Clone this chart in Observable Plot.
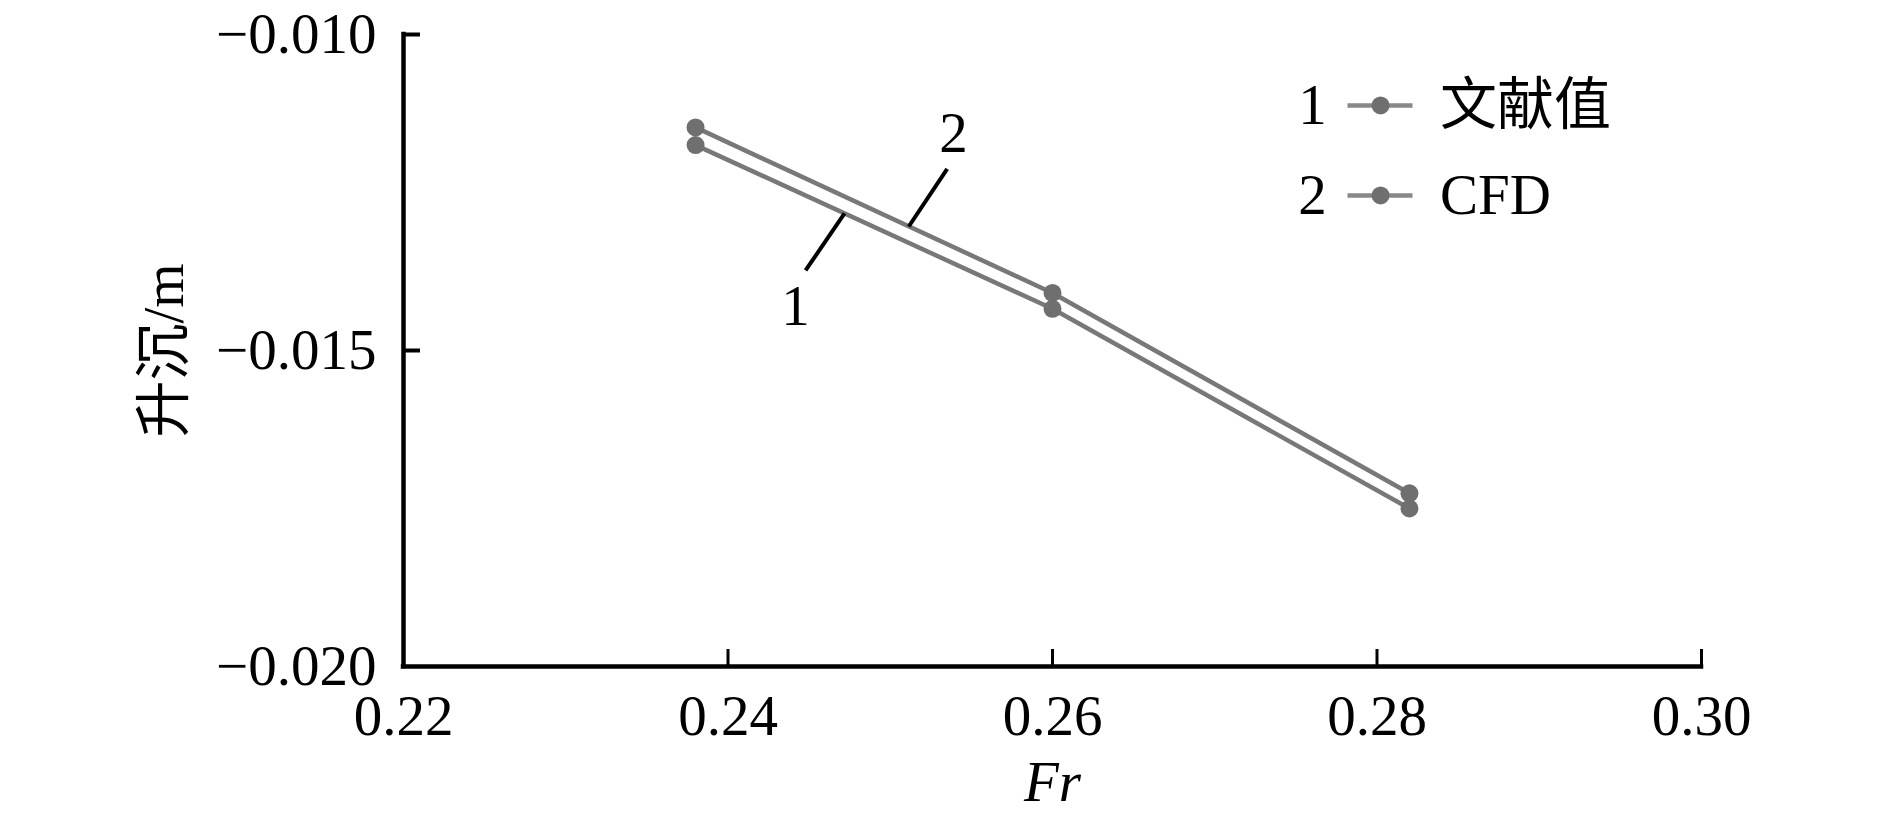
<!DOCTYPE html>
<html>
<head>
<meta charset="utf-8">
<script src="https://cdn.jsdelivr.net/npm/d3@7"></script>
<script src="https://cdn.jsdelivr.net/npm/@observablehq/plot@0.6"></script>
<style>
  html, body { margin: 0; padding: 0; background: #fff; }
</style>
</head>
<body>
<div id="chart"></div>
<script>
// Data
const fr = [0.238, 0.260, 0.282];
const literature = [-0.01175, -0.01434, -0.01750]; // 1 文献值
const cfd = [-0.01147, -0.01409, -0.01726];        // 2 CFD

const seriesNames = ["文献值", "CFD"];
const seriesNums = ["1", "2"];

const xTickValues = [0.22, 0.24, 0.26, 0.28, 0.30];
const yTickValues = [-0.020, -0.015, -0.010];

// annotation leaders (data units)
const leaderNums = ["1", "2"];
const leaderFrom = [[0.24718, -0.012832], [0.25351, -0.012125]];
const leaderTo = [[0.24478, -0.013734], [0.25114, -0.013038]];
const leaderLabelPos = [[0.24416, -0.014604], [0.25390, -0.011867]];

// legend placement (data units)
const legendRowY = [-0.011123, -0.012547];
const legendNumX = 0.27602;
const legendLineX = [0.27818, 0.28219];
const legendDotX = 0.28022;
const legendTextX = 0.28388;

const rows = [];
fr.forEach((f, i) => {
  rows.push({fr: f, v: literature[i], s: seriesNames[0]});
  rows.push({fr: f, v: cfd[i], s: seriesNames[1]});
});

const leaders = leaderNums.map((n, i) => ({
  n, x1: leaderFrom[i][0], y1: leaderFrom[i][1], x2: leaderTo[i][0], y2: leaderTo[i][1],
  lx: leaderLabelPos[i][0], ly: leaderLabelPos[i][1]
}));

const legend = seriesNames.map((name, i) => ({name, num: seriesNums[i], y: legendRowY[i]}));

const W = 1890, H = 822;
const mL = 403, mR = 189, mT = 34, mB = 156;
const plotW = W - mL - mR, plotH = H - mT - mB;
const FONT = "'Liberation Serif', 'Times New Roman', 'Noto Sans CJK SC', serif";
const FS = 57;
const lineColor = "#787878";
const dotColor = "#6f6f6f";

const chart = Plot.plot({
  width: W,
  height: H,
  marginLeft: mL,
  marginRight: mR,
  marginTop: mT,
  marginBottom: mB,
  style: {fontFamily: FONT, fontSize: FS + "px", background: "#fff", color: "#000"},
  x: {domain: [0.22, 0.30], label: null},
  y: {domain: [-0.020, -0.010], label: null},
  marks: [
    // axis tick labels
    Plot.axisX({ticks: xTickValues, tickSize: 0, tickPadding: 28, tickFormat: d3.format(".2f"), fontSize: FS, fill: "#000"}),
    Plot.axisY({ticks: yTickValues, tickSize: 0, tickPadding: 27, tickFormat: d3.format(".3f"), fontSize: FS, fill: "#000"}),
    // inward ticks
    Plot.ruleX(xTickValues.slice(1), {y1: -0.010, y2: -0.020, insetTop: plotH - 17, stroke: "#000", strokeWidth: 3}),
    Plot.ruleY(yTickValues.slice(1), {x1: 0.22, x2: 0.30, insetRight: plotW - 17, stroke: "#000", strokeWidth: 4}),
    // axis lines
    Plot.ruleY([-0.020], {stroke: "#000", strokeWidth: 4.5, strokeLinecap: "square"}),
    Plot.ruleX([0.22], {stroke: "#000", strokeWidth: 4.5, strokeLinecap: "square"}),
    // series
    Plot.line(rows, {x: "fr", y: "v", z: "s", stroke: lineColor, strokeWidth: 4.5}),
    Plot.dot(rows, {x: "fr", y: "v", r: 9, fill: dotColor, stroke: "none"}),
    // leaders and labels
    Plot.link(leaders, {x1: "x1", y1: "y1", x2: "x2", y2: "y2", stroke: "#000", strokeWidth: 4}),
    Plot.text(leaders, {x: "lx", y: "ly", text: "n", lineAnchor: "bottom", fontSize: FS, fill: "#000"}),
    // legend
    Plot.text(legend, {x: () => legendNumX, y: "y", text: "num", fontSize: FS, fill: "#000"}),
    Plot.link(legend, {x1: () => legendLineX[0], x2: () => legendLineX[1], y1: "y", y2: "y", stroke: "#888", strokeWidth: 4.5}),
    Plot.dot(legend, {x: () => legendDotX, y: "y", r: 9, fill: dotColor, stroke: "none"}),
    Plot.text(legend, {x: () => legendTextX, y: "y", text: "name", textAnchor: "start", fontSize: FS, fill: "#000"}),
    // axis titles
    Plot.text(["Fr"], {frameAnchor: "bottom", lineAnchor: "bottom", textAnchor: "middle", dy: 134, text: d => d, fontSize: FS, fontStyle: "italic", fill: "#000"}),
    Plot.text(["升沉/m"], {frameAnchor: "left", textAnchor: "middle", rotate: -90, dx: -239, text: d => d, fontSize: FS, fill: "#000"})
  ]
});

document.getElementById("chart").appendChild(chart);
</script>
</body>
</html>
